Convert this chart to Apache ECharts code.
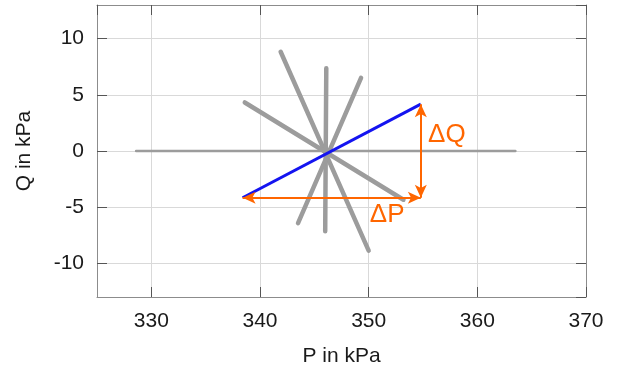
<!DOCTYPE html>
<html>
<head>
<meta charset="utf-8">
<script src="https://cdn.jsdelivr.net/npm/echarts@6/dist/echarts.min.js"></script>
<style>html,body{margin:0;padding:0;background:#fff}#c{width:617px;height:376px}</style>
</head>
<body>
<div id="c"></div>
<script>
// Gray measurement traces (P, Q) in kPa
const traceHorizontal = [[328.6, 0.0], [363.5, 0.0]];
const traceSteep = [[341.9, 8.84], [350.0, -8.87]];
const traceVertical = [[346.1, 7.36], [346.0, -7.14]];
const traceRight = [[349.3, 6.52], [343.5, -6.43]];
const traceShallow = [[338.6, 4.32], [353.2, -4.34]];
// Highlighted blue trace
const traceBlue = [[338.4, -4.16], [354.8, 4.17]];
// Delta arrows
const arrowP = [[338.4, -4.16], [354.8, -4.16]];
const arrowQ = [[354.8, 4.17], [354.8, -4.16]];
const labelDQ = [357.2, 1.4];
const labelDP = [351.7, -5.66];

const gray = '#9c9c9c';
const orange = '#ff6600';
const font = 'Liberation Sans, Arial, sans-serif';

function grayLine(data, w) {
  return {type: 'line', data: data, symbol: 'none', silent: true,
    lineStyle: {color: gray, width: w, cap: 'round'}, z: 2};
}
function arrow(data) {
  return {type: 'line', data: [], symbol: 'none', silent: true,
    markLine: {silent: true, symbol: ['arrow', 'arrow'], symbolSize: [9, 13],
      label: {show: false},
      lineStyle: {color: orange, width: 2, type: 'solid', opacity: 1},
      emphasis: {disabled: true},
      data: [[{coord: data[0]}, {coord: data[1]}]]}, z: 4};
}
function txt(pos, s) {
  return {type: 'scatter', data: [pos], symbolSize: 0, silent: true,
    itemStyle: {color: orange, opacity: 1},
    label: {show: true, formatter: s, position: 'inside', color: orange, opacity: 1,
      textBorderWidth: 0, fontSize: 26, fontFamily: font}, z: 5};
}

const chart = echarts.init(document.getElementById('c'), null, {renderer: 'canvas'});
const axCommon = {
  axisLine: {show: true, onZero: false, lineStyle: {color: '#8c8c8c', width: 1}},
  axisTick: {show: true, inside: true, length: 10, lineStyle: {color: '#555', width: 1}},
};
chart.setOption({
  animation: false,
  grid: {left: 97, right: 31, top: 5, bottom: 79},
  xAxis: [
    Object.assign({type: 'value', min: 325, max: 370, minInterval: 10, maxInterval: 10,
      name: 'P in kPa', nameLocation: 'middle', nameGap: 49,
      nameTextStyle: {fontSize: 21, color: '#1a1a1a', fontFamily: font},
      axisLabel: {fontSize: 21, color: '#1a1a1a', fontFamily: font, margin: 14,
        showMinLabel: false, showMaxLabel: true,
        formatter: v => (v % 10 === 0 ? String(v) : '')},
      splitLine: {show: true, lineStyle: {color: '#d9d9d9', width: 1}}}, axCommon),
    Object.assign({type: 'value', position: 'top', min: 325, max: 370, minInterval: 10, maxInterval: 10,
      axisLabel: {show: false}, splitLine: {show: false}}, axCommon)
  ],
  yAxis: [
    Object.assign({type: 'value', min: -13, max: 13, minInterval: 5, maxInterval: 5,
      name: 'Q in kPa', nameLocation: 'middle', nameGap: 62,
      nameTextStyle: {fontSize: 21, color: '#1a1a1a', fontFamily: font},
      axisLabel: {fontSize: 21, color: '#1a1a1a', fontFamily: font, margin: 13,
        showMinLabel: false, showMaxLabel: false,
        formatter: v => (v % 5 === 0 ? String(v) : '')},
      splitLine: {show: true, lineStyle: {color: '#d9d9d9', width: 1}}}, axCommon),
    Object.assign({type: 'value', position: 'right', min: -13, max: 13, minInterval: 5, maxInterval: 5,
      axisLabel: {show: false}, splitLine: {show: false}}, axCommon)
  ],
  series: [
    grayLine(traceHorizontal, 2.5),
    grayLine(traceSteep, 4.5),
    grayLine(traceVertical, 4.5),
    grayLine(traceRight, 4.5),
    grayLine(traceShallow, 4.5),
    {type: 'line', data: traceBlue, symbol: 'none', silent: true,
      lineStyle: {color: '#1414f0', width: 3}, z: 3},
    arrow(arrowP),
    arrow(arrowQ),
    txt(labelDQ, 'ΔQ'),
    txt(labelDP, 'ΔP')
  ]
});
</script>
</body>
</html>
